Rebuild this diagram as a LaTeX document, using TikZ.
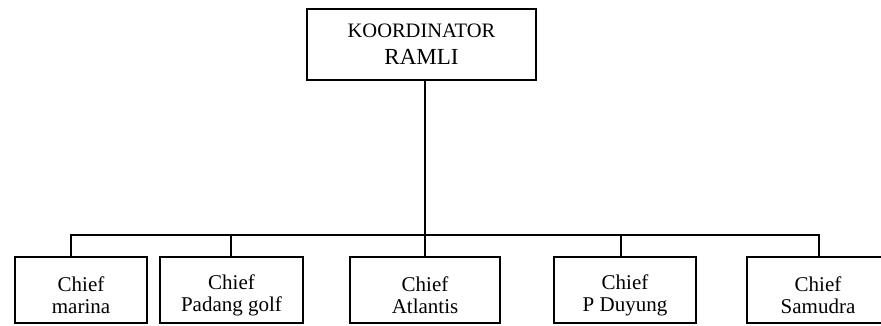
\documentclass[tikz,border=0pt]{standalone}
\usepackage{fontspec}
\setmainfont{Liberation Serif}
\newcommand\chieftop{\rule{0pt}{25pt}}
\begin{document}
\begin{tikzpicture}[x=1pt,y=-1pt,
  box/.style={draw,line width=1.3pt,inner sep=0pt,align=center},
  chief/.style={box,minimum height=66pt,font=\fontsize{21}{22}\selectfont},
  link/.style={line width=1.3pt}]
\useasboundingbox (0,0) rectangle (881,326);
\node[box,minimum width=229pt,minimum height=71pt] (top) at (421.5,44.5)
  {{\fontsize{20.5}{20.5}\selectfont KOORDINATOR}\\[11pt]{\fontsize{23}{23}\selectfont RAMLI}};
\node[chief,minimum width=132pt] (b1) at (81,290) {\chieftop Chief\\marina};
\node[chief,minimum width=143pt] (b2) at (231.5,290) {\chieftop Chief\\Padang golf};
\node[chief,minimum width=150pt] (b3) at (425,290) {\chieftop Chief\\Atlantis};
\node[chief,minimum width=142pt] (b4) at (625,290) {\chieftop Chief\\P Duyung};
\node[chief,minimum width=142pt] (b5) at (818,290) {\chieftop Chief\\Samudra};
\coordinate (d1) at ([xshift=-10pt]b1.north);
\coordinate (d2) at ([xshift=-0.5pt]b2.north);
\coordinate (d4) at ([xshift=-4pt]b4.north);
\coordinate (d5) at ([xshift=1pt]b5.north);
\coordinate (bus) at (0,235);
\draw[link] (b3.north |- top.south) -- (b3.north);
\draw[link] (d1) -- (d1 |- bus) -- (d5 |- bus) -- (d5);
\draw[link] (d2) -- (d2 |- bus);
\draw[link] (d4) -- (d4 |- bus);
\end{tikzpicture}
\end{document}
